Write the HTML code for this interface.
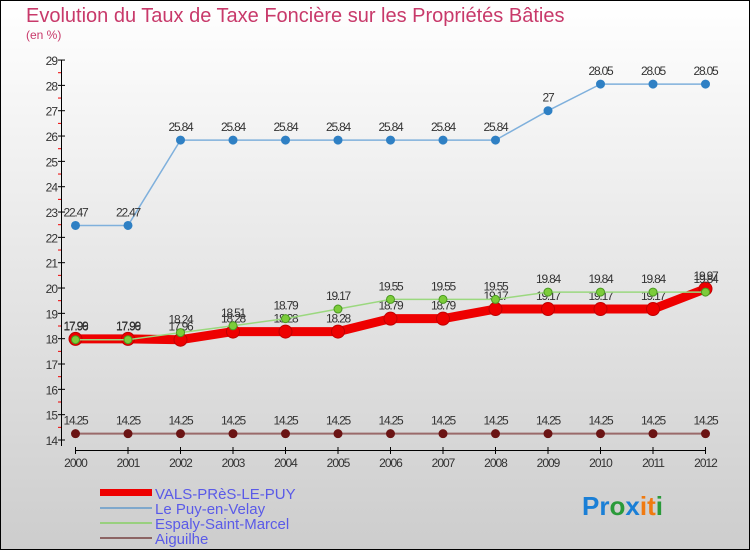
<!DOCTYPE html>
<html><head><meta charset="utf-8"><style>
body{margin:0;}
#c{width:750px;height:550px;position:relative;overflow:hidden;font-family:"Liberation Sans",sans-serif;}
</style></head><body>
<div id="c">
<svg id="s" width="750" height="550" xmlns="http://www.w3.org/2000/svg">
<defs><linearGradient id="bg" x1="0" y1="0" x2="0" y2="1"><stop offset="0" stop-color="#ffffff"/><stop offset="1" stop-color="#cdcdcd"/></linearGradient></defs>
<rect x="0.5" y="0.5" width="749" height="549" fill="url(#bg)" stroke="#000"/>
<text x="26" y="22" font-size="20" fill="#c8396a">Evolution du Taux de Taxe Foncière sur les Propriétés Bâties</text>
<text x="26" y="39" font-size="12" fill="#c8396a">(en %)</text>
<g id="g"></g>
<g>
<rect x="100" y="489" width="52" height="7" fill="#ee0000"/>
<text x="155" y="499" font-size="15" fill="#5a5ae8">VALS-PRèS-LE-PUY</text>
<rect x="100" y="507" width="52" height="2" fill="#7fa8cc"/>
<text x="155" y="514" font-size="15" fill="#5a5ae8">Le Puy-en-Velay</text>
<rect x="100" y="522" width="52" height="2" fill="#99d07f"/>
<text x="155" y="529" font-size="15" fill="#5a5ae8">Espaly-Saint-Marcel</text>
<rect x="100" y="537" width="52" height="2" fill="#8c6464"/>
<text x="155" y="544" font-size="15" fill="#5a5ae8">Aiguilhe</text>
</g>
<text x="582" y="515" font-size="26" font-weight="bold"><tspan fill="#1a7fd6">Pr</tspan><tspan fill="#2a9a3a">o</tspan><tspan fill="#1a7fd6">x</tspan><tspan fill="#f07a10">i</tspan><tspan fill="#f07a10">t</tspan><tspan fill="#2a9a3a">i</tspan></text>
</svg></div>
<script>
const years=[2000,2001,2002,2003,2004,2005,2006,2007,2008,2009,2010,2011,2012];
const vals=[17.99,17.99,17.96,18.28,18.28,18.28,18.79,18.79,19.17,19.17,19.17,19.17,19.97];
const lePuy=[22.47,22.47,25.84,25.84,25.84,25.84,25.84,25.84,25.84,27,28.05,28.05,28.05];
const espaly=[17.96,17.96,18.24,18.51,18.79,19.17,19.55,19.55,19.55,19.84,19.84,19.84,19.84];
const aiguilhe=[14.25,14.25,14.25,14.25,14.25,14.25,14.25,14.25,14.25,14.25,14.25,14.25,14.25];
const yTicks=[14,15,16,17,18,19,20,21,22,23,24,25,26,27,28,29];
const NS="http://www.w3.org/2000/svg";
const g=document.getElementById('g');
const X=i=>75.5+i*52.5;
const Y=v=>440-(v-14)*25.33;
function el(t,a){const e=document.createElementNS(NS,t);for(const k in a)e.setAttribute(k,a[k]);g.appendChild(e);return e;}
// axes
let ya=el('line',{x1:61.5,y1:60,x2:61.5,y2:446,stroke:'#000'});


yTicks.forEach(v=>{
 el('line',{x1:58,x2:65,y1:Y(v),y2:Y(v),stroke:'#000'});
 if(v<29) el('line',{x1:58,x2:61,y1:Y(v+0.5),y2:Y(v+0.5),stroke:'#e00'});
 const t=el('text',{x:57,y:Y(v)+5,'font-size':12,fill:'#333','text-anchor':'end','letter-spacing':'-1'});t.textContent=v;
 
 
});
let xa=el('line',{x1:X(0),y1:450.5,x2:X(12),y2:450.5,stroke:'#000'});


years.forEach((y,i)=>{
 el('line',{x1:X(i),x2:X(i),y1:447,y2:454,stroke:'#000'});
 const t=el('text',{x:X(i),y:467,'font-size':12,fill:'#333','text-anchor':'middle','letter-spacing':'-1'});t.textContent=y;
 
 
});
function series(d,name,color,w,r,fill,stroke){
 const p=el('polyline',{points:d.map((v,i)=>X(i)+','+Y(v)).join(' '),fill:'none',stroke:color,'stroke-width':w,'stroke-linejoin':'round'});
 
 
 d.forEach((v,i)=>{
  const c=el('circle',{cx:X(i),cy:Y(v),r:r,fill:fill,stroke:stroke,'stroke-width':1});
  
  
  const t=el('text',{x:X(i),y:Y(v)-9,'font-size':12,fill:'#333','text-anchor':'middle','letter-spacing':'-1.2'});t.textContent=v;
  
  
 });
}
series(aiguilhe,'aiguilhe','#9a6a6a',2,4,'#6b1414','#6b1414');
series(lePuy,'le-puy','#7fb0dc',1.5,4,'#2f80c4','#2f80c4');
series(vals,'vals','#ee0000',9,6.5,'#ee0000','#c00000');
series(espaly,'espaly','#9bd87f',1.5,4,'#7ccc3a','#4a9a20');
</script>
</body></html>
